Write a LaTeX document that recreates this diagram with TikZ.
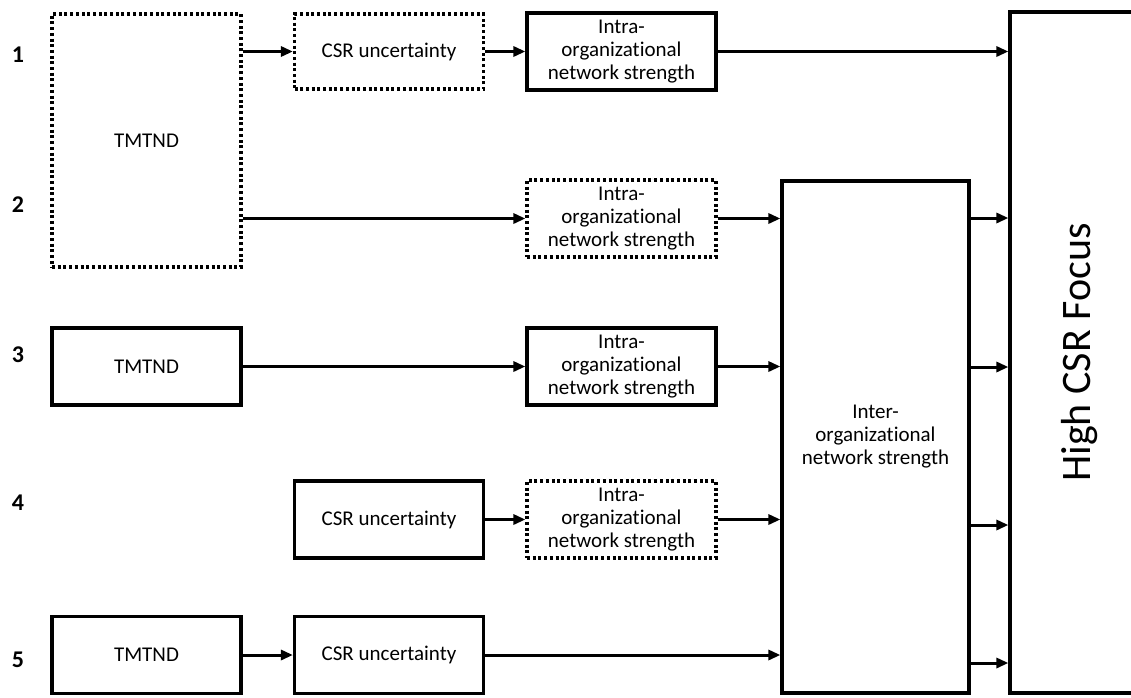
\documentclass[tikz,border=0pt]{standalone}
\usepackage{fontspec}
\setmainfont{Carlito}[Ligatures=NoCommon]
\usetikzlibrary{arrows.meta}
\tikzset{
  box/.style={draw, line width=3.2pt, minimum width=189pt, minimum height=77pt, inner sep=0pt, align=center, font=\fontsize{21}{23}\selectfont},
  dotbox/.style={box, line width=3.2pt, dash pattern=on 3pt off 2.7pt},
  arr/.style={line width=3pt, -{Triangle[length=12pt,width=10pt]}},
  num/.style={font=\fontsize{24}{26}\selectfont\bfseries},
}
\begin{document}
\begin{tikzpicture}[x=1pt,y=-1pt]
\useasboundingbox (0,0) rectangle (1131,697);
% row numbers
\node[num] (num1) at (18,55){1};
\node[num] (num2) at (18,205){2};
\node[num] (num3) at (18,355){3};
\node[num] (num4) at (18,503){4};
\node[num] (num5) at (18,660){5};
% boxes
\node[dotbox, minimum height=253pt] (tmtnd1) at (146.5,140.5){TMTND};
\node[dotbox, minimum height=75pt] (csr1) at (389,51.5){CSR uncertainty};
\node[box] (intra1) at (621.5,51.5){Intra-\\organizational\\network strength};
\node[dotbox] (intra2) at (621.5,218.5){Intra-\\organizational\\network strength};
\node[box] (tmtnd3) at (146.5,366.5){TMTND};
\node[box] (intra3) at (621.5,366.5){Intra-\\organizational\\network strength};
\node[box] (csr4) at (389,519.5){CSR uncertainty};
\node[dotbox] (intra4) at (621.5,519.5){Intra-\\organizational\\network strength};
\node[box] (tmtnd5) at (146.5,655){TMTND};
\node[box] (csr5) at (389,655){CSR uncertainty};
\node[box, minimum width=187pt, minimum height=512pt] (inter) at (875.5,437){Inter-\\organizational\\network strength};
\node[box, minimum width=140pt, minimum height=681pt,
  label={[rotate=90, font=\fontsize{42}{50}\selectfont]center:High CSR Focus}] (focus) at (1080,352.5){};
% arrows
\draw[arr] (tmtnd1.east |- csr1.west) -- (csr1.west);
\draw[arr] (csr1.east) -- (intra1.west);
\draw[arr] (intra1.east) -- (intra1.east -| focus.west);
\draw[arr] (tmtnd1.east |- intra2.west) -- (intra2.west);
\draw[arr] (intra2.east) -- (intra2.east -| inter.west);
\draw[arr] (tmtnd3.east) -- (intra3.west);
\draw[arr] (intra3.east) -- (intra3.east -| inter.west);
\draw[arr] (csr4.east) -- (intra4.west);
\draw[arr] (intra4.east) -- (intra4.east -| inter.west);
\draw[arr] (tmtnd5.east) -- (csr5.west);
\draw[arr] (csr5.east) -- (csr5.east -| inter.west);
\foreach \y in {218,367,525,663}
  \draw[arr] (inter.east |- 0,\y) -- (focus.west |- 0,\y);
\end{tikzpicture}
\end{document}
